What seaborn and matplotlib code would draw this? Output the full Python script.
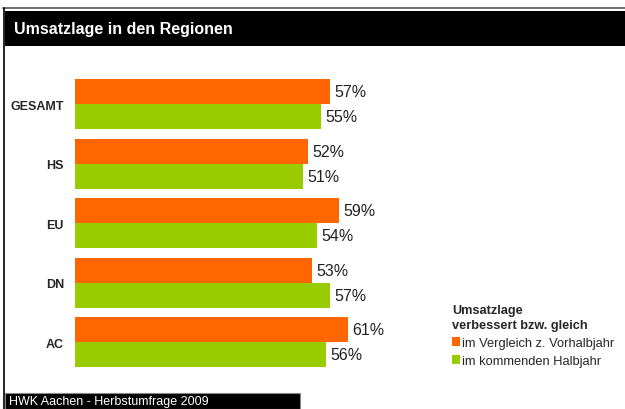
import numpy as np
import pandas as pd
import matplotlib
matplotlib.use("Agg")
import matplotlib.pyplot as plt
from matplotlib.patches import Rectangle
from matplotlib.lines import Line2D
import seaborn as sns

# data
regionen = ["GESAMT", "HS", "EU", "DN", "AC"]
vorjahr = [57, 52, 59, 53, 61]      # im Vergleich z. Vorhalbjahr
kommend = [55, 51, 54, 57, 56]      # im kommenden Halbjahr
serien = ["im Vergleich z. Vorhalbjahr", "im kommenden Halbjahr"]
farben = ["#FF6600", "#99CC00"]

df = pd.DataFrame({
    "region": regionen * 2,
    "wert": vorjahr + kommend,
    "serie": [serien[0]] * len(regionen) + [serien[1]] * len(regionen),
})

sns.set_style("white")
plt.rcParams["font.family"] = ["Liberation Sans", "DejaVu Sans"]

W, H = 625, 410
fig = plt.figure(figsize=(W / 100, H / 100), dpi=100)

def px_box(x0, y0, x1, y1):
    # pixel box (top-left origin) -> figure fraction
    return [x0 / W, 1 - y1 / H, (x1 - x0) / W, (y1 - y0) / H]

ax_top, ax_bot = 50, 392
ax = fig.add_axes(px_box(75, ax_top, 620, ax_bot))

sns.barplot(data=df, y="region", x="wert", hue="serie", orient="h",
            palette=farben, width=0.84, saturation=1, linewidth=0,
            ax=ax, legend=True)

px_per_pct = 4.48
ax.set_xlim(0, 545 / px_per_pct)
pitch = 59.6
c0 = 105
ax.set_ylim((ax_bot - c0) / pitch, (ax_top - c0) / pitch)

for cont in ax.containers:
    ax.bar_label(cont, labels=[f"{int(v)}%" for v in cont.datavalues],
                 padding=3, fontsize=11.5, color="#222222")

ax.set_xlabel("")
ax.set_ylabel("")
ax.set_xticks([])
ax.tick_params(axis="y", length=0, pad=8)
for lab in ax.get_yticklabels():
    lab.set_fontweight("bold")
    lab.set_fontsize(9)
sns.despine(ax=ax, left=True, bottom=True)

handles, labels = ax.get_legend_handles_labels()
ax.get_legend().remove()
leg = fig.legend(handles, labels, title="Umsatzlage\nverbessert bzw. gleich",
                 loc="upper left", bbox_to_anchor=(443 / W, 1 - 296 / H),
                 frameon=False, fontsize=9.3, handlelength=0.65, handleheight=0.65,
                 handletextpad=0.15, labelspacing=0.45, borderpad=0.2)
leg.get_title().set_fontweight("bold")
leg.get_title().set_fontsize(9.2)
leg.get_title().set_linespacing(1.35)
leg._legend_box.align = "left"

# frame, title bar and footer
fig.add_artist(Line2D([3 / W, 1], [1 - 9 / H, 1 - 9 / H], color="#555555", lw=1.2))
fig.add_artist(Line2D([3.5 / W, 3.5 / W], [0, 1 - 9 / H], color="black", lw=1.2))
fig.add_artist(Rectangle((5 / W, 1 - 47 / H), 1, 35 / H, transform=fig.transFigure,
                         facecolor="black", edgecolor="none"))
fig.text(14 / W, 1 - 29.5 / H, "Umsatzlage in den Regionen", color="white",
         fontsize=11.5, fontweight="bold", va="center", ha="left")
fig.add_artist(Rectangle((5 / W, 0), 295 / W, 16 / H, transform=fig.transFigure,
                         facecolor="black", edgecolor="#888888", lw=0.8))
fig.text(9 / W, 1 - 402.5 / H, "HWK Aachen - Herbstumfrage 2009", color="white",
         fontsize=9, va="center", ha="left")

fig.savefig("out.png", dpi=100)
